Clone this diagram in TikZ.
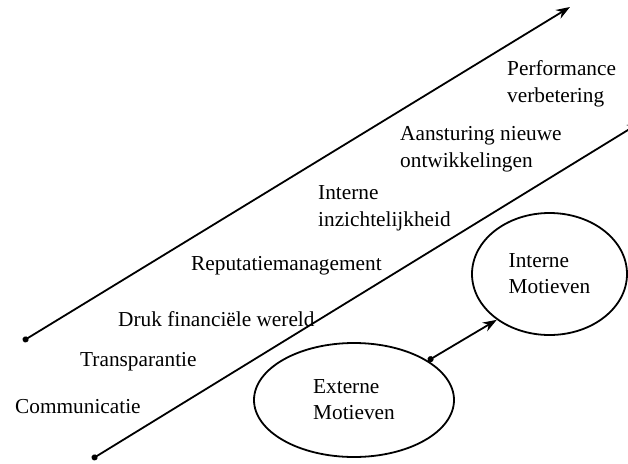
\documentclass[tikz,border=0pt]{standalone}
\usepackage{fontspec}
\setmainfont{Liberation Serif}
\usepackage{tikz}
\usetikzlibrary{arrows.meta, shapes.geometric}

\begin{document}
\begin{tikzpicture}[
        x=1pt, y=-1pt,
        as/.style={line width=1.8pt, {Circle[length=6pt]}-{Stealth[length=14pt, width=10pt]}},
        motief/.style={draw, line width=1.8pt, ellipse, inner sep=0pt, align=left,
                      font=\fontsize{21.3}{26}\selectfont},
        stap/.style={anchor=west, inner sep=0pt, align=left,
                    font=\fontsize{21.3}{27}\selectfont}
      ]
      \clip (0,0) rectangle (628,463);

      % Assen
      \coordinate (a0) at (23,341);
      \coordinate (a1) at (570,7);
      \coordinate (b0) at (92,459);
      \coordinate (b1) at (641,122);
      \draw[as] (a0) -- (a1);
      \draw[as] (b0) -- (b1);

      % Stappen van onder naar boven
      \node[stap] (comm) at (15,407)  {Communicatie};
      \node[stap] (tran) at (80,362)  {Transparantie};
      \node[stap] (druk) at (118,319) {Druk financiële wereld};
      \node[stap] (repu) at (191,266) {Reputatiemanagement};
      \node[stap] (inzi) at (318,208) {Interne\\inzichtelijkheid};
      \node[stap] (aans) at (400,149) {Aansturing nieuwe\\ontwikkelingen};
      \node[stap] (perf) at (507,84)  {Performance\\verbetering};

      % Motieven
      \node[motief, minimum width=200, minimum height=114] (ext) at (354,400) {Externe\\Motieven};
      \node[motief, minimum width=155, minimum height=122] (int) at (549.5,274) {Interne\\Motieven};

      \draw[as] (ext.28) -- (int.221);
    \end{tikzpicture}
\end{document}
